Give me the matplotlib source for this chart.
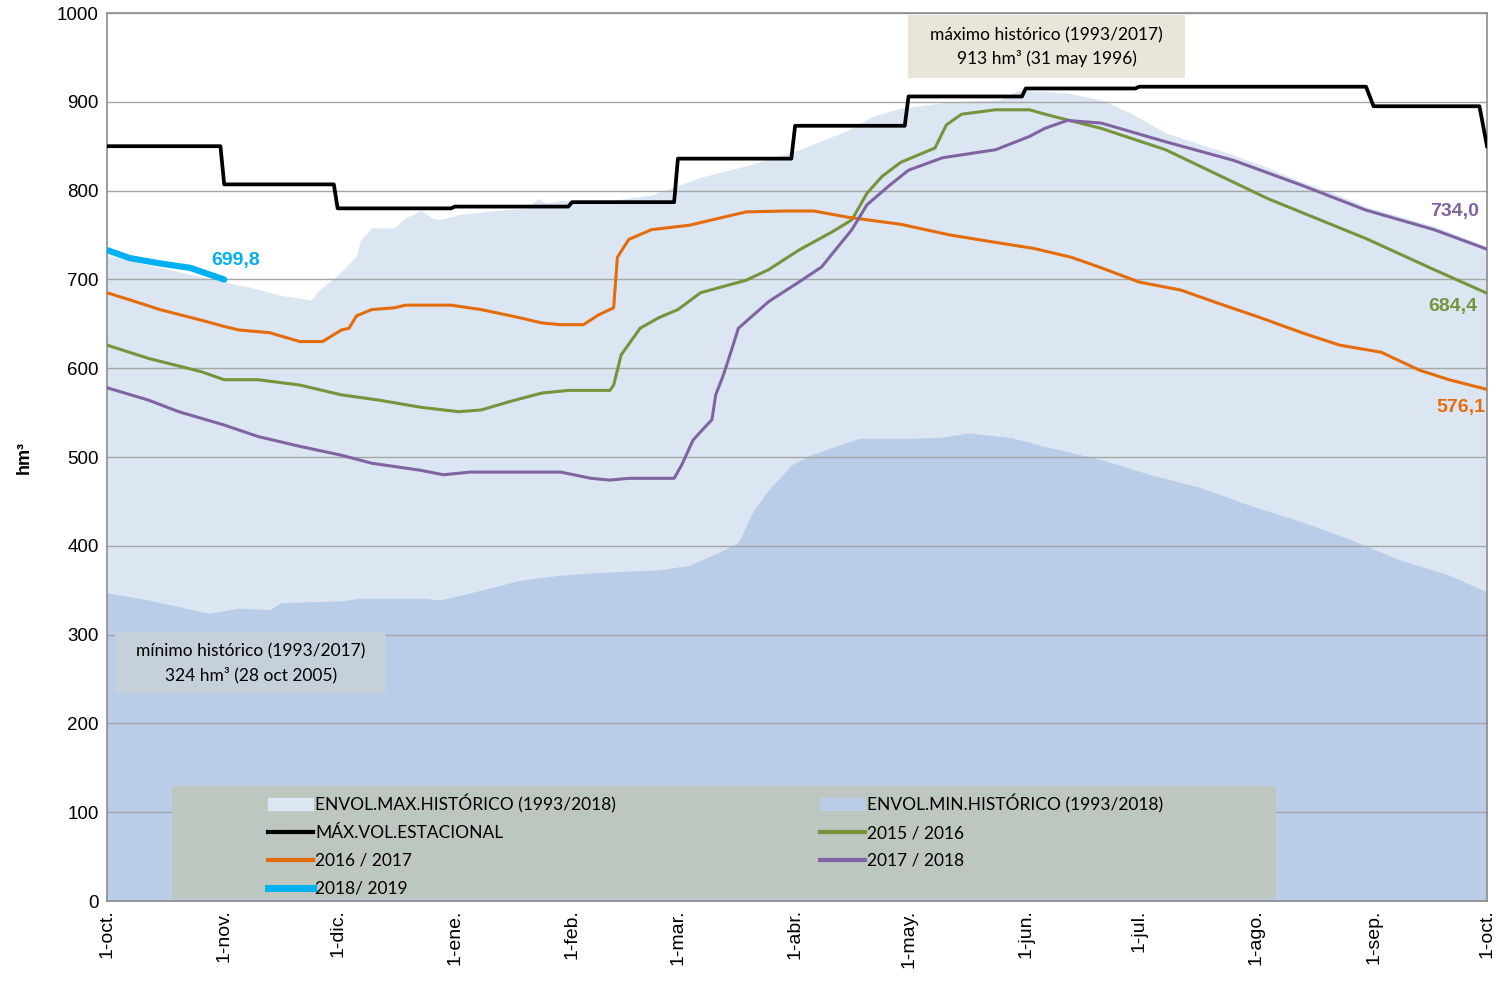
import matplotlib.pyplot as plt
from matplotlib.patches import Patch, Rectangle
from matplotlib.lines import Line2D

# dias del año hidrologico (1-oct = 0)
mes_dias = [0, 31, 61, 92, 123, 151, 182, 212, 243, 273, 304, 335, 365]
mes_labels = ['1-oct.', '1-nov.', '1-dic.', '1-ene.', '1-feb.', '1-mar.', '1-abr.',
              '1-may.', '1-jun.', '1-jul.', '1-ago.', '1-sep.', '1-oct.']

# envolvente maxima historica
env_max_d = [0, 31, 38, 46, 54, 56, 60, 63, 66, 67, 70, 76, 79, 81, 83, 86, 88, 93, 104,
             111, 114, 116, 120, 130, 144, 157, 170, 183, 196, 202, 210, 223, 236, 241,
             254, 263, 271, 280, 298, 307, 316, 324, 333, 342, 351, 365]
env_max_v = [727, 697, 691, 682, 677, 688, 701, 713, 727, 744, 758, 758, 770, 773, 778, 769,
             767, 773, 778, 780, 791, 786, 789, 787, 795, 815, 829, 846, 868, 883, 893, 900,
             902, 913, 910, 902, 887, 865, 840, 826, 810, 798, 782, 771, 760, 737]

# envolvente minima historica
env_min_d = [0, 11, 27, 35, 43, 46, 62, 67, 83, 88, 99, 109, 120, 130, 146, 154, 162, 167,
             171, 175, 181, 186, 194, 199, 210, 220, 228, 239, 249, 263, 276, 289, 302, 316,
             329, 342, 355, 365]
env_min_v = [347, 339, 324, 330, 328, 336, 338, 341, 341, 339, 350, 361, 367, 370, 373, 378,
             393, 404, 440, 463, 491, 502, 514, 521, 521, 522, 527, 522, 511, 497, 480, 466,
             446, 427, 407, 384, 367, 348]

# maximo volumen estacional
max_est_d = [0, 30, 31, 60, 61, 91, 92, 122, 123, 150, 151, 181, 182, 211, 212, 242, 243,
             272, 273, 333, 335, 363, 365]
max_est_v = [850, 850, 807, 807, 780, 780, 782, 782, 787, 787, 836, 836, 873, 873, 906, 906,
             915, 915, 917, 917, 895, 895, 850]

# 2015 / 2016
c1516_d = [0, 11, 25, 31, 40, 51, 62, 72, 83, 93, 99, 107, 115, 122, 133, 134, 136, 141, 146,
           151, 157, 169, 175, 183, 192, 197, 201, 205, 210, 219, 222, 226, 235, 244, 249, 263,
           280, 307, 333, 351, 365]
c1516_v = [626, 611, 596, 587, 587, 581, 570, 564, 556, 551, 553, 563, 572, 575, 575, 581, 615,
           645, 657, 666, 685, 699, 711, 733, 754, 767, 797, 816, 832, 848, 874, 886, 891, 891,
           885, 870, 846, 791, 746, 711, 684.4]

# 2016 / 2017
c1617_d = [0, 6, 14, 25, 31, 35, 43, 51, 57, 62, 64, 66, 70, 76, 79, 91, 99, 109, 115, 120,
           126, 130, 134, 135, 138, 144, 154, 169, 179, 187, 196, 210, 223, 236, 245, 255, 263,
           273, 284, 294, 305, 316, 326, 337, 347, 355, 365]
c1617_v = [685, 677, 666, 654, 647, 643, 640, 630, 630, 643, 645, 659, 666, 668, 671, 671, 666,
           657, 651, 649, 649, 660, 668, 725, 745, 756, 761, 776, 777, 777, 770, 762, 750, 741,
           735, 725, 713, 697, 688, 673, 657, 640, 626, 618, 598, 587, 576.1]

# 2017 / 2018
c1718_d = [0, 11, 19, 31, 40, 51, 62, 70, 83, 89, 96, 107, 120, 128, 133, 138, 148, 150, 152,
           155, 158, 160, 161, 163, 165, 167, 175, 183, 189, 197, 201, 207, 212, 221, 235, 244,
           248, 254, 263, 280, 298, 316, 333, 351, 365]
c1718_v = [578, 564, 551, 536, 523, 512, 502, 493, 485, 480, 483, 483, 483, 476, 474, 476, 476,
           476, 491, 519, 533, 542, 570, 592, 618, 645, 675, 697, 714, 756, 784, 806, 823, 837,
           846, 861, 870, 879, 876, 855, 834, 806, 778, 756, 734.0]

# 2018 / 2019
c1819_d = [0, 6, 14, 22, 31]
c1819_v = [733, 724, 718, 713, 699.8]

c_max = '#DCE6F2'
c_min = '#B9CDE9'
c_1516 = '#77933C'
c_1617 = '#E46C0A'
c_1718 = '#8064A2'
c_1819 = '#00B0F0'

fig = plt.figure(figsize=(15.01, 9.81), dpi=100)
ax = fig.add_axes([107 / 1501, 80 / 981, 1380 / 1501, 888 / 981])

ax.fill_between(env_max_d, 0, env_max_v, color=c_max, lw=0, zorder=1)
ax.fill_between(env_min_d, 0, env_min_v, color=c_min, lw=0, zorder=1)
ax.plot(max_est_d, max_est_v, color='black', lw=2.7, zorder=3)
ax.plot(c1516_d, c1516_v, color=c_1516, lw=2.2, zorder=3)
ax.plot(c1617_d, c1617_v, color=c_1617, lw=2.2, zorder=3)
ax.plot(c1718_d, c1718_v, color=c_1718, lw=2.2, zorder=3)
ax.plot(c1819_d, c1819_v, color=c_1819, lw=4.5, solid_capstyle='round', zorder=4)

ax.set_xlim(0, 365)
ax.set_ylim(0, 1000)
ax.set_yticks(range(0, 1001, 100))
ax.set_xticks(mes_dias)
ax.set_xticklabels(mes_labels, rotation=90, fontsize=14, family='Liberation Sans')
for t in ax.get_yticklabels():
    t.set_fontsize(13.5)
    t.set_family('Liberation Sans')
ax.tick_params(length=0, pad=6)
ax.grid(axis='y', color='#A6A6A6', lw=1)
for s in ax.spines.values():
    s.set_color('#8C8C8C')
    s.set_linewidth(1.2)
ax.set_ylabel('hm³', fontsize=13, fontweight='bold', family='Liberation Sans', labelpad=17)

# etiquetas de valores finales
lab = dict(fontsize=14, fontweight='bold', family='Liberation Sans', ha='center', va='center', zorder=6)
ax.text(34, 721, '699,8', color=c_1819, **lab)
ax.text(356.5, 776, '734,0', color=c_1718, **lab)
ax.text(356, 669, '684,4', color=c_1516, **lab)
ax.text(358, 556, '576,1', color=c_1617, **lab)

# cajas de maximo y minimo historico
ax.add_patch(Rectangle((211.8, 926.8), 73.3, 70.9, facecolor='#E9E5D8', lw=0, zorder=5))
ax.text(248.5, 975, 'máximo histórico (1993/2017)', fontsize=12.5, family='Lato',
        ha='center', va='center', zorder=6)
ax.text(248.5, 949, '913 hm³ (31 may 1996)', fontsize=12.5, family='Lato',
        ha='center', va='center', zorder=6)
ax.add_patch(Rectangle((2.1, 234.2), 71.7, 68.7, facecolor='#C6D0DA', lw=0, zorder=5))
ax.text(38, 281.5, 'mínimo histórico (1993/2017)', fontsize=12.5, family='Lato',
        ha='center', va='center', zorder=6)
ax.text(38, 254.5, '324 hm³ (28 oct 2005)', fontsize=12.5, family='Lato',
        ha='center', va='center', zorder=6)

# leyenda
ax.add_patch(Rectangle((0.047, 0.002), 0.80, 0.127, transform=ax.transAxes,
                       facecolor='#BDC6BF', lw=0, zorder=5))
handles = [Patch(color=c_max), Line2D([], [], color='black', lw=3),
           Line2D([], [], color=c_1617, lw=3), Line2D([], [], color=c_1819, lw=5),
           Patch(color=c_min), Line2D([], [], color=c_1516, lw=3),
           Line2D([], [], color=c_1718, lw=3)]
labels = ['ENVOL.MAX.HISTÓRICO (1993/2018)', 'MÁX.VOL.ESTACIONAL', '2016 / 2017', '2018/ 2019',
          'ENVOL.MIN.HISTÓRICO (1993/2018)', '2015 / 2016', '2017 / 2018']
leg = ax.legend(handles, labels, ncol=2, loc='upper left', bbox_to_anchor=(0.108, 0.134),
                frameon=False, borderpad=0.2, handlelength=2.6, handletextpad=0.1,
                columnspacing=11.75, labelspacing=0.68, prop={'family': 'Lato', 'size': 12.5})
leg.set_zorder(6)

fig.savefig('out.png', dpi=100)
